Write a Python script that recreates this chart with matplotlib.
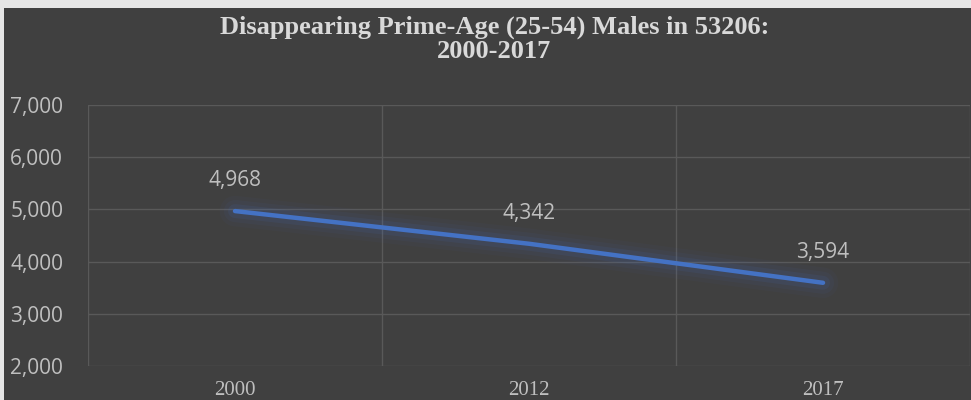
import numpy as np
import matplotlib
matplotlib.use("Agg")
import matplotlib.pyplot as plt
from matplotlib.patches import Rectangle

years = ["2000", "2012", "2017"]
males = [4968, 4342, 3594]
yticks = [2000, 3000, 4000, 5000, 6000, 7000]

bg = "#404040"
grid = "#595959"
txt = "#d9d9d9"
blue = "#4472C4"

fig = plt.figure(figsize=(9.71, 4.0), dpi=100)
fig.patch.set_facecolor("#e6e6e6")
fig.add_artist(Rectangle((4 / 971, 0), 1, 1 - 8 / 400, transform=fig.transFigure,
                         facecolor=bg, edgecolor="none", zorder=-10))

ax = fig.add_axes([88 / 971, 1 - 366 / 400, 0.999 - 88 / 971, (366 - 105) / 400])
ax.set_facecolor(bg)
for s in ax.spines.values():
    s.set_visible(False)

x = np.arange(len(years))
# soft glow under the line
for w, a in [(22, 0.04), (16, 0.06), (10, 0.1)]:
    ax.plot(x, males, color=blue, lw=w, alpha=a, solid_capstyle="round", zorder=2)
ax.plot(x, males, color=blue, lw=3.2, solid_capstyle="round", zorder=3)

for xi, v in zip(x, males):
    ax.annotate(f"{v:,}", (xi, v), xytext=(0, 22), textcoords="offset points",
                ha="center", va="center", color="#bfbfbf", fontsize=15,
                family="Open Sans")

ax.set_xlim(-0.5, 2.5)
ax.set_ylim(2000, 7000)
ax.set_yticks(yticks)
ax.set_yticklabels([f"{t:,}" for t in yticks], family="Open Sans", fontsize=15,
                   color="#bfbfbf", ha="left")
ax.set_xticks(x)
ax.set_xticklabels(years, family="Liberation Serif", fontsize=15, color="#bfbfbf")
ax.set_xticks([-0.5, 0.5, 1.5, 2.5], minor=True)
ax.tick_params(axis="y", length=0, pad=56)
ax.tick_params(axis="x", which="both", length=0, pad=11)
ax.grid(axis="y", color=grid, lw=1)
ax.grid(axis="x", which="minor", color=grid, lw=1)
ax.set_axisbelow(True)

fig.text(0.509, 1 - 39 / 400, "Disappearing Prime-Age (25-54) Males in 53206:\n2000-2017",
         ha="center", va="center", color=txt, fontsize=19, fontweight="bold",
         family="Liberation Serif", linespacing=1.05)

fig.savefig("out.png", dpi=100, facecolor=fig.get_facecolor())
